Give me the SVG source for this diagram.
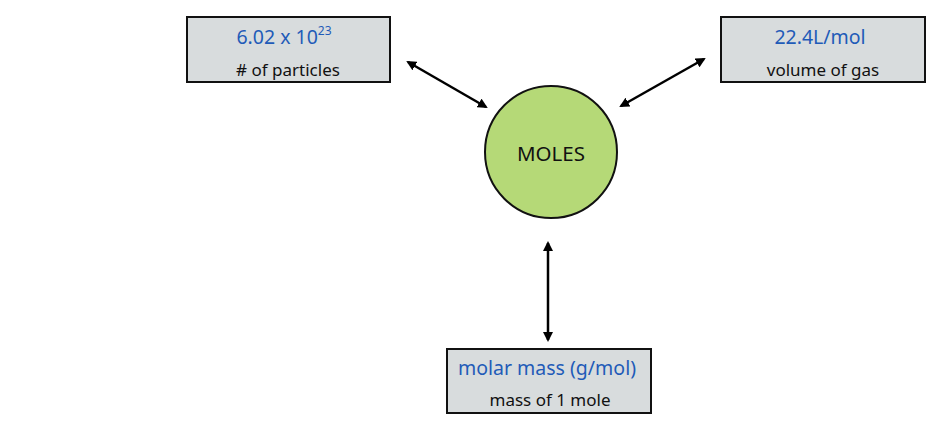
<svg xmlns="http://www.w3.org/2000/svg" width="935" height="423" viewBox="0 0 935 423">
<style>
.box{fill:#d8dcdd;stroke:#111;stroke-width:2}
.t1{font-family:"Noto Sans","Open Sans",sans-serif;font-size:19.5px;fill:#1f5bb8;text-anchor:middle}
.t2{font-family:"Noto Sans","Open Sans",sans-serif;font-size:17px;fill:#111;text-anchor:middle}
.c{stroke:#000;stroke-width:2.5;fill:none;marker-start:url(#ah);marker-end:url(#ah)}
</style>
<defs>
<marker id="ah" viewBox="0 0 10 10" refX="8" refY="5" markerWidth="4" markerHeight="4" orient="auto-start-reverse" markerUnits="strokeWidth">
<path d="M0,0 L10,5 L0,10 z" fill="#000"/>
</marker>
</defs>
<rect width="935" height="423" fill="#fff"/>
<g id="connectors">
<line class="c" x1="408" y1="62" x2="486" y2="107"/>
<line class="c" x1="704" y1="59" x2="621" y2="106"/>
<line class="c" x1="548" y1="243" x2="548" y2="340"/>
</g>
<g id="moles">
<circle cx="551" cy="152" r="66" fill="#b5d977" stroke="#111" stroke-width="2"/>
<text x="551" y="161" font-family="Noto Sans,Open Sans,sans-serif" font-size="20.5" fill="#111" text-anchor="middle">MOLES</text>
</g>
<g id="particles">
<rect class="box" x="187" y="17" width="203" height="65"/>
<text class="t1" x="284" y="44">6.02 x 10<tspan font-size="12" dy="-9">23</tspan></text>
<text class="t2" x="288" y="76">&#35; of particles</text>
</g>
<g id="gas">
<rect class="box" x="721" y="17" width="204" height="65"/>
<text class="t1" x="820" y="44">22.4L/mol</text>
<text class="t2" x="823" y="76">volume of gas</text>
</g>
<g id="mass">
<rect class="box" x="447" y="349" width="204" height="64"/>
<text class="t1" x="547" y="375">molar mass (g/mol)</text>
<text class="t2" x="550" y="406">mass of 1 mole</text>
</g>
</svg>
